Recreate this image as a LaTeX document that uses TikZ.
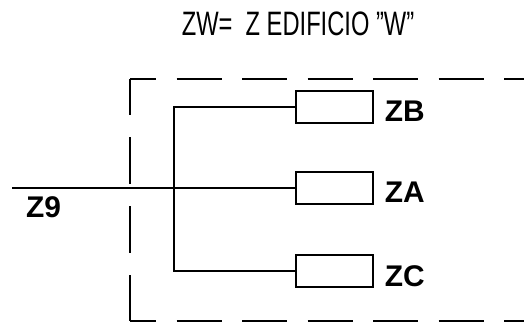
\documentclass[tikz,border=0pt]{standalone}
\usepackage{fontspec}
\setmainfont{Liberation Sans}
\usepackage{tikz}
\usetikzlibrary{positioning, calc}
\definecolor{cadInk}{RGB}{0, 0, 0}
\tikzset{
    base/.style={
        font=\sffamily,
        inner sep=0pt
    },
    load/.style={
        rectangle,
        draw=cadInk,
        line width=1.2bp,
        fill=white,
        minimum width=77bp,
        minimum height=32bp
    },
    wire/.style={
        line width=1.2bp,
        color=cadInk
    },
    zone/.style={
        line width=1.2bp,
        color=cadInk
    },
    tag/.style={
        base,
        font=\fontsize{30}{30}\selectfont\bfseries,
        text=cadInk,
        anchor=base west
    },
    heading/.style={
        base,
        font=\fontsize{34}{34}\selectfont,
        text=cadInk,
        xscale=0.7
    }
}
\begin{document}
\begin{tikzpicture}[x=1bp, y=-1bp]
  \useasboundingbox (0,0) rectangle (524,324);

  % Title
  \node[heading] (title) at (298,24) {ZW=\ \ Z EDIFICIO "W"};

  % Building zone (dashed)
  \coordinate (zone nw) at (130,79);
  \coordinate (zone sw) at (130,321);
  \coordinate (zone ne) at (532,79);
  \coordinate (zone se) at (532,321);
  \draw[zone, dash pattern=on 45bp off 20.5bp, dash phase=19bp] (zone nw) -- (zone ne);
  \draw[zone, dash pattern=on 45bp off 20.5bp, dash phase=19bp] (zone sw) -- (zone se);
  \draw[zone, dash pattern=on 47bp off 22bp, dash phase=11bp] (zone nw) -- (zone sw);

  % Loads
  \node[load] (zb) at (334.5,107) {};
  \node[load] (za) at (334.5,188) {};
  \node[load] (zc) at (334.5,271) {};

  \node[tag] (zb label) at ([xshift=11bp, yshift=2bp]zb.south east) {ZB};
  \node[tag] (za label) at ([xshift=11bp, yshift=2bp]za.south east) {ZA};
  \node[tag] (zc label) at ([xshift=11bp, yshift=1bp]zc.south east) {ZC};

  % Feeder and branches
  \coordinate (feed) at (12,188);
  \coordinate (bus) at (174,188);
  \draw[wire] (feed) -- (za.west);
  \draw[wire] (zb.west) -| (bus) |- (zc.west);
  \node[tag] (feed label) at ([xshift=14bp, yshift=-29bp]feed) {Z9};
\end{tikzpicture}
\end{document}
